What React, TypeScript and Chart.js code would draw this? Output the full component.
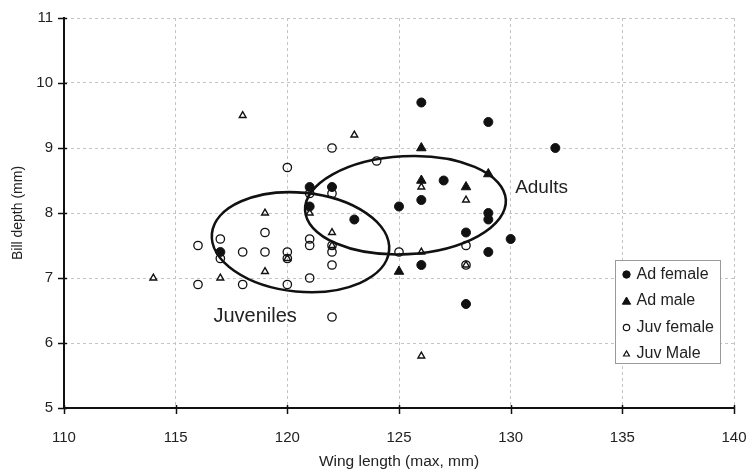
import React, { useEffect, useRef } from 'react';
import { Chart, registerables } from 'chart.js';

Chart.register(...registerables);

// ---- data ----
const xTickValues = [110, 115, 120, 125, 130, 135, 140];
const yTickValues = [5, 6, 7, 8, 9, 10, 11];
const seriesNames = ['Ad female', 'Ad male', 'Juv female', 'Juv Male'];

const adFemale: [number, number][] = [
  [126, 9.7], [129, 9.4], [132, 9.0], [121, 8.4], [122, 8.4], [121, 8.1],
  [117, 7.4], [123, 7.9], [125, 8.1], [126, 8.2], [127, 8.5], [129, 8.0],
  [129, 7.9], [128, 7.7], [130, 7.6], [129, 7.4], [126, 7.2], [128, 6.6],
];
const adMale: [number, number][] = [
  [125, 7.1], [126, 9.0], [126, 8.5], [128, 8.4], [129, 8.6],
];
const juvFemale: [number, number][] = [
  [116, 7.5], [116, 6.9], [117, 7.6], [117, 7.3], [118, 7.4], [118, 6.9],
  [119, 7.7], [119, 7.4], [120, 8.7], [120, 7.4], [120, 7.3], [120, 6.9],
  [121, 8.3], [121, 7.6], [121, 7.5], [121, 7.0], [122, 9.0], [122, 8.3],
  [122, 7.5], [122, 7.4], [122, 7.2], [122, 6.4], [124, 8.8], [125, 7.4],
  [128, 7.5], [128, 7.2],
];
const juvMale: [number, number][] = [
  [114, 7.0], [117, 7.0], [118, 9.5], [119, 8.0], [119, 7.1], [120, 7.3],
  [121, 8.0], [122, 7.7], [122, 7.5], [123, 9.2], [126, 8.4], [126, 7.4],
  [126, 5.8], [128, 8.2], [128, 7.2],
];

// group ellipses (data units: centre, semi-axes; rotation in degrees on screen)
const groupNames = ['Juveniles', 'Adults'];
const groupCentres: [number, number][] = [[120.59, 7.551], [125.29, 8.12]];
const groupRadii: [number, number][] = [[3.985, 0.762], [4.5, 0.754]];
const groupRotation = [5.5, -3];
const groupLabelAt: [number, number][] = [[116.69, 6.33], [130.2, 8.31]];
const groupLabelSize = [20, 19];

const FONT = '"Liberation Sans", Arial, Helvetica, sans-serif';
const INK = '#111';
const TEXT = '#222';

function toPts(arr: [number, number][]) {
  return arr.map(([x, y]) => ({ x, y }));
}

function drawMarker(ctx: CanvasRenderingContext2D, kind: string, x: number, y: number, r: number, filled: boolean, lw: number) {
  ctx.beginPath();
  if (kind === 'circle') {
    ctx.arc(x, y, r, 0, Math.PI * 2);
  } else {
    let rad = 0;
    ctx.moveTo(x + Math.sin(rad) * r, y - Math.cos(rad) * r);
    rad += (2 * Math.PI) / 3;
    ctx.lineTo(x + Math.sin(rad) * r, y - Math.cos(rad) * r);
    rad += (2 * Math.PI) / 3;
    ctx.lineTo(x + Math.sin(rad) * r, y - Math.cos(rad) * r);
    ctx.closePath();
  }
  if (filled) {
    ctx.fillStyle = INK;
    ctx.fill();
  }
  ctx.lineWidth = lw;
  ctx.strokeStyle = INK;
  ctx.stroke();
}

const ellipsePlugin = {
  id: 'groupEllipses',
  beforeDatasetsDraw(chart: any) {
    const { ctx, scales } = chart;
    const xs = scales.x;
    const ys = scales.y;
    ctx.save();
    ctx.lineWidth = 2.6;
    ctx.strokeStyle = INK;
    groupNames.forEach((name, i) => {
      const [cx, cy] = groupCentres[i];
      const [rx, ry] = groupRadii[i];
      const px = xs.getPixelForValue(cx);
      const py = ys.getPixelForValue(cy);
      const rpx = Math.abs(xs.getPixelForValue(cx + rx) - px);
      const rpy = Math.abs(ys.getPixelForValue(cy + ry) - py);
      ctx.beginPath();
      ctx.ellipse(px, py, rpx, rpy, (groupRotation[i] * Math.PI) / 180, 0, Math.PI * 2);
      ctx.stroke();
    });
    ctx.restore();
  },
  afterDatasetsDraw(chart: any) {
    const { ctx, scales } = chart;
    ctx.save();
    ctx.fillStyle = TEXT;
    ctx.textBaseline = 'alphabetic';
    ctx.textAlign = 'left';
    groupNames.forEach((name, i) => {
      const [lx, ly] = groupLabelAt[i];
      ctx.font = `${groupLabelSize[i]}px ${FONT}`;
      ctx.fillText(name, scales.x.getPixelForValue(lx), scales.y.getPixelForValue(ly));
    });
    ctx.restore();
  },
};

const tickMarkPlugin = {
  id: 'crossTicks',
  afterDraw(chart: any) {
    const { ctx, scales, chartArea } = chart;
    ctx.save();
    ctx.strokeStyle = INK;
    ctx.lineWidth = 1.5;
    ctx.beginPath();
    yTickValues.forEach((v) => {
      const py = Math.round(scales.y.getPixelForValue(v)) + 0.5;
      ctx.moveTo(chartArea.left - 6, py);
      ctx.lineTo(chartArea.left + 3, py);
    });
    xTickValues.forEach((v) => {
      const px = Math.round(scales.x.getPixelForValue(v)) + 0.5;
      ctx.moveTo(px, chartArea.bottom - 3);
      ctx.lineTo(px, chartArea.bottom + 6);
    });
    ctx.stroke();
    ctx.restore();
  },
};

const legendPlugin = {
  id: 'boxLegend',
  afterDraw(chart: any) {
    const { ctx } = chart;
    const left = 615.5, top = 260.5, w = 105, h = 103;
    ctx.save();
    ctx.fillStyle = '#fff';
    ctx.fillRect(left, top, w, h);
    ctx.strokeStyle = '#9a9a9a';
    ctx.lineWidth = 1;
    ctx.strokeRect(left, top, w, h);
    const rows = [274.5, 301, 327.5, 353.5];
    const kinds = [
      { k: 'circle', r: 3.7, f: true, lw: 1 },
      { k: 'triangle', r: 4.8, f: true, lw: 1 },
      { k: 'circle', r: 3.2, f: false, lw: 1.2 },
      { k: 'triangle', r: 3.4, f: false, lw: 1.2 },
    ];
    seriesNames.forEach((name, i) => {
      const m = kinds[i];
      drawMarker(ctx, m.k, 626.5, rows[i] + (m.k === 'triangle' ? 0.8 : 0), m.r, m.f, m.lw);
      ctx.fillStyle = TEXT;
      ctx.font = `16px ${FONT}`;
      ctx.textBaseline = 'middle';
      ctx.textAlign = 'left';
      ctx.fillText(name, 636.5, rows[i]);
    });
    ctx.restore();
  },
};

export default function App() {
  const ref = useRef<HTMLCanvasElement | null>(null);

  useEffect(() => {
    if (!ref.current) return;
    const gridColor = '#c4c4c4';
    const chart = new Chart(ref.current, {
      type: 'scatter',
      data: {
        datasets: [
          {
            label: seriesNames[0],
            data: toPts(adFemale),
            pointStyle: 'circle',
            pointRadius: 4.5,
            pointBackgroundColor: INK,
            pointBorderColor: INK,
            pointBorderWidth: 1,
          },
          {
            label: seriesNames[1],
            data: toPts(adMale),
            pointStyle: 'triangle',
            pointRadius: 5.5,
            pointBackgroundColor: INK,
            pointBorderColor: INK,
            pointBorderWidth: 1,
          },
          {
            label: seriesNames[2],
            data: toPts(juvFemale),
            pointStyle: 'circle',
            pointRadius: 4.2,
            pointBackgroundColor: 'rgba(0,0,0,0)',
            pointBorderColor: INK,
            pointBorderWidth: 1.3,
          },
          {
            label: seriesNames[3],
            data: toPts(juvMale),
            pointStyle: 'triangle',
            pointRadius: 3.9,
            pointBackgroundColor: 'rgba(0,0,0,0)',
            pointBorderColor: INK,
            pointBorderWidth: 1.4,
          },
        ],
      },
      options: {
        animation: false,
        responsive: false,
        devicePixelRatio: 1,
        events: [],
        layout: { padding: { top: 18, right: 14, left: 0, bottom: 0 } },
        plugins: {
          legend: { display: false },
          tooltip: { enabled: false },
          title: { display: false },
        },
        scales: {
          x: {
            type: 'linear',
            min: 110,
            max: 140,
            afterBuildTicks: (axis: any) => {
              axis.ticks = xTickValues.map((v) => ({ value: v }));
            },
            afterFit: (axis: any) => {
              axis.height = 63;
              axis.paddingLeft = 0;
              axis.paddingRight = 0;
            },
            ticks: {
              color: TEXT,
              font: { family: FONT, size: 15 },
              padding: 21,
              maxRotation: 0,
            },
            grid: {
              color: gridColor,
              lineWidth: 1,
              drawTicks: false,
            },
            border: { display: true, color: INK, width: 2, dash: [3, 3] },
            title: {
              display: true,
              text: 'Wing length (max, mm)',
              color: TEXT,
              font: { family: FONT, size: 15.5 },
              padding: { top: 0, bottom: 0 },
            },
          },
          y: {
            type: 'linear',
            min: 5,
            max: 11,
            afterBuildTicks: (axis: any) => {
              axis.ticks = yTickValues.map((v) => ({ value: v }));
            },
            afterFit: (axis: any) => {
              axis.width = 64;
              axis.paddingTop = 0;
              axis.paddingBottom = 0;
            },
            ticks: {
              color: TEXT,
              font: { family: FONT, size: 15 },
              padding: 11,
            },
            grid: {
              color: gridColor,
              lineWidth: 1,
              drawTicks: false,
            },
            border: { display: true, color: INK, width: 2, dash: [3, 3] },
            title: {
              display: true,
              text: 'Bill depth (mm)',
              color: TEXT,
              font: { family: FONT, size: 14 },
              padding: { top: 10, bottom: 0 },
            },
          },
        },
      },
      plugins: [ellipsePlugin, tickMarkPlugin, legendPlugin],
    } as any);
    return () => chart.destroy();
  }, []);

  return (
    <div style={{ position: 'fixed', left: 0, top: 0, width: 748, height: 471, background: '#fff' }}>
      <canvas ref={ref} width={748} height={471} style={{ display: 'block', width: 748, height: 471 }} />
    </div>
  );
}
